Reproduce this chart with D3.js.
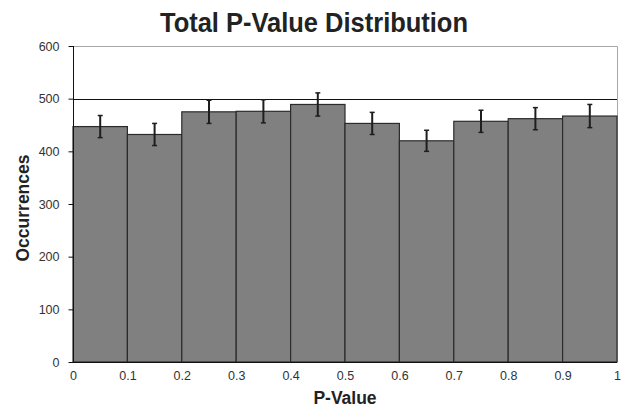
<!DOCTYPE html>
<html>
<head>
<meta charset="utf-8">
<script src="https://cdn.jsdelivr.net/npm/d3@7"></script>
<style>
  html, body { margin: 0; padding: 0; background: #fff; }
  svg { display: block; font-family: "Liberation Sans", Arial, sans-serif; }
</style>
</head>
<body>
<svg id="chart" width="634" height="408"></svg>
<script>
// ---- data ----
const binStarts = [0, 0.1, 0.2, 0.3, 0.4, 0.5, 0.6, 0.7, 0.8, 0.9];
const counts    = [447, 432, 475, 476, 489, 453, 420, 457, 462, 467];
const errors    = [21, 21, 22, 22, 22, 21, 20, 21, 21, 22];
const xTicks    = [0, 0.1, 0.2, 0.3, 0.4, 0.5, 0.6, 0.7, 0.8, 0.9, 1];
const yTicks    = [0, 100, 200, 300, 400, 500, 600];
const refLine   = [500];
const binWidth  = 0.1;

const svg = d3.select("#chart");
const plotL = 73, plotR = 617, plotT = 46, plotB = 362;

const x = d3.scaleLinear().domain([0, 1]).range([plotL, plotR]);
const y = d3.scaleLinear().domain([0, 600]).range([plotB, plotT]);

// frame (top and right, light gray)
svg.append("path")
  .attr("d", `M${plotL},${plotT + 0.5}H${plotR + 0.5}V${plotB}`)
  .attr("fill", "none").attr("stroke", "#a8a8a8").attr("stroke-width", 1);

// reference line at 500
svg.selectAll(".ref").data(refLine).enter().append("line")
  .attr("x1", plotL).attr("x2", plotR)
  .attr("y1", d => Math.round(y(d)) + 0.5).attr("y2", d => Math.round(y(d)) + 0.5)
  .attr("stroke", "#111").attr("stroke-width", 1);

// bars
svg.selectAll(".bar").data(binStarts).enter().append("rect")
  .attr("x", d => x(d))
  .attr("width", d => x(d + binWidth) - x(d))
  .attr("y", (d, i) => y(counts[i]))
  .attr("height", (d, i) => y(0) - y(counts[i]))
  .attr("fill", "#808080")
  .attr("stroke", "#2b2b2b").attr("stroke-width", 1.2);

// error bars
const eb = svg.selectAll(".eb").data(binStarts).enter().append("g")
  .attr("stroke", "#1e1e1e");
eb.append("line")
  .attr("x1", d => x(d + binWidth / 2)).attr("x2", d => x(d + binWidth / 2))
  .attr("y1", (d, i) => y(counts[i] + errors[i]))
  .attr("y2", (d, i) => y(counts[i] - errors[i]))
  .attr("stroke-width", 2);
eb.append("line")
  .attr("x1", d => x(d + binWidth / 2) - 2.5).attr("x2", d => x(d + binWidth / 2) + 2.5)
  .attr("y1", (d, i) => y(counts[i] + errors[i])).attr("y2", (d, i) => y(counts[i] + errors[i]))
  .attr("stroke-width", 1.5);
eb.append("line")
  .attr("x1", d => x(d + binWidth / 2) - 2.5).attr("x2", d => x(d + binWidth / 2) + 2.5)
  .attr("y1", (d, i) => y(counts[i] - errors[i])).attr("y2", (d, i) => y(counts[i] - errors[i]))
  .attr("stroke-width", 1.5);

// y axis
const yAxis = svg.append("g")
  .attr("transform", `translate(${plotL + 0.5},0)`)
  .call(d3.axisLeft(y).tickValues(yTicks).tickSize(5).tickPadding(9).tickFormat(d3.format("d")));
yAxis.select(".domain").attr("stroke", "#111").attr("d", `M0,${plotT}V${plotB}`);
yAxis.selectAll(".tick line").attr("stroke", "#111");
yAxis.selectAll(".tick text").attr("fill", "#333")
  .style("font-size", "12.5px").style("font-family", "'Liberation Sans', Arial, sans-serif");

// x axis
const xAxis = svg.append("g")
  .attr("transform", `translate(0,${plotB + 0.5})`)
  .call(d3.axisBottom(x).tickValues(xTicks).tickSize(0).tickPadding(9)
    .tickFormat(d => d === 0 ? "0" : d === 1 ? "1" : d3.format(".1f")(d)));
xAxis.select(".domain").attr("stroke", "#111").attr("d", `M${plotL},0H${plotR}`);
xAxis.selectAll(".tick text").attr("fill", "#333")
  .style("font-size", "12.5px").style("font-family", "'Liberation Sans', Arial, sans-serif");

// title
svg.append("text")
  .attr("x", 314).attr("y", 32)
  .attr("text-anchor", "middle")
  .attr("fill", "#222")
  .style("font-size", "27px").style("font-weight", "bold")
  .attr("textLength", 308).attr("lengthAdjust", "spacingAndGlyphs")
  .text("Total P-Value Distribution");

// x label
svg.append("text")
  .attr("x", 345).attr("y", 404)
  .attr("text-anchor", "middle")
  .attr("fill", "#222")
  .style("font-size", "17.5px").style("font-weight", "bold")
  .text("P-Value");

// y label
svg.append("text")
  .attr("transform", "translate(29,208) rotate(-90)")
  .attr("text-anchor", "middle")
  .attr("fill", "#222")
  .style("font-size", "17.5px").style("font-weight", "bold")
  .text("Occurrences");
</script>
</body>
</html>
